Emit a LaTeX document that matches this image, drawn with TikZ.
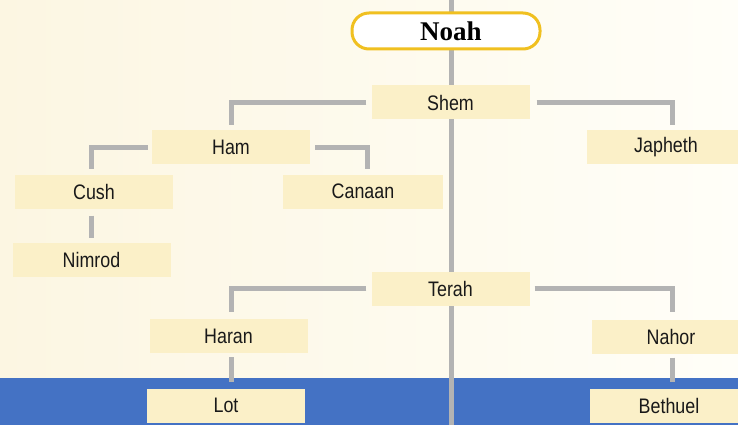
\documentclass[tikz,border=0pt]{standalone}
\usepackage{fontspec}
\setmainfont{Liberation Sans}
\newfontfamily\labelfont[FakeStretch=0.85]{Liberation Sans}
\newfontfamily\titlefont{Liberation Serif}
\definecolor{bgleft}{HTML}{FCF6E2}
\definecolor{bgright}{HTML}{FFFEF8}
\definecolor{boxfill}{HTML}{FBF0C8}
\definecolor{linegrey}{HTML}{B3B3B3}
\definecolor{bandblue}{HTML}{4472C4}
\definecolor{noahborder}{HTML}{F0C020}
\tikzset{
  person/.style={fill=boxfill, draw=none, minimum width=158pt, minimum height=34pt,
    inner sep=0pt, font=\labelfont\fontsize{21}{24}\selectfont, text=black!90},
  conn/.style={draw=linegrey, line width=5pt},
  rootbox/.style={draw=noahborder, line width=3pt, fill=white, rounded corners=17pt,
    minimum width=188pt, minimum height=36pt, inner sep=0pt,
    font=\titlefont\bfseries\fontsize{27}{30}\selectfont}
}
\begin{document}
\begin{tikzpicture}[x=1pt,y=-1pt]
\useasboundingbox (0,0) rectangle (738,425);
\clip (0,0) rectangle (738,425);
\shade[left color=bgleft, right color=bgright] (0,0) rectangle (738,425);
\fill[bandblue] (0,378) rectangle (738,425);
\coordinate (topend) at (451,0);
\coordinate (botend) at (451,425);
\draw[conn] (topend) -- (botend);

\node[rootbox] (noah) at (446,31) {\hspace*{10pt}Noah};
\node[person] (shem) at (450.5,102.5) {Shem};
\node[person] (ham) at (231,147) {Ham};
\node[person] (japheth) at (666,147) {Japheth};
\node[person] (cush) at (94,191.5) {Cush};
\node[person, minimum width=160pt] (canaan) at (363,191.5) {Canaan};
\node[person] (nimrod) at (91.5,260) {Nimrod};
\node[person] (terah) at (450.5,288.5) {Terah};
\node[person] (haran) at (228.5,336) {Haran};
\node[person] (nahor) at (671,336.5) {Nahor};
\node[person] (lot) at (226,405.5) {Lot};
\node[person] (bethuel) at (669,405.5) {Bethuel};

\draw[conn] ([xshift=-5pt]shem.west) -| ([yshift=5pt]ham.north);
\draw[conn] ([xshift=7pt]shem.east) -| ([xshift=6pt,yshift=5pt]japheth.north);
\draw[conn] ([xshift=-4pt]ham.west) -| ([xshift=-3pt,yshift=5pt]cush.north);
\draw[conn] ([xshift=5pt]ham.east) -| ([xshift=4pt,yshift=5pt]canaan.north);
\draw[conn] ([xshift=-3pt,yshift=-7pt]cush.south) -- ([xshift=-0.5pt,yshift=5pt]nimrod.north);
\draw[conn] ([xshift=-5pt]terah.west) -| ([xshift=2.5pt,yshift=7pt]haran.north);
\draw[conn] ([xshift=5pt]terah.east) -| ([xshift=1pt,yshift=7pt]nahor.north);
\draw[conn] ([xshift=2.5pt,yshift=-4pt]haran.south) -- ([xshift=5pt,yshift=6pt]lot.north);
\draw[conn] ([xshift=1pt,yshift=-4pt]nahor.south) -- ([xshift=3pt,yshift=6pt]bethuel.north);
\end{tikzpicture}
\end{document}
